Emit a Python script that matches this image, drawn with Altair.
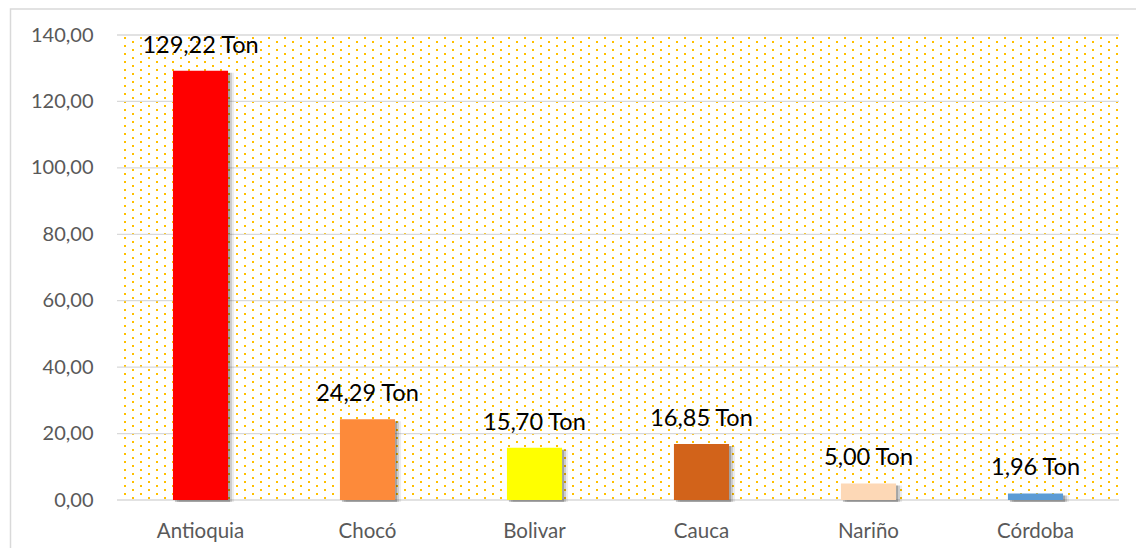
import altair as alt
import pandas as pd

# ---- data ----
departamentos = ["Antioquia", "Chocó", "Bolivar", "Cauca", "Nariño", "Córdoba"]
toneladas = [129.22, 24.29, 15.70, 16.85, 5.00, 1.96]
colores = ["#FF0000", "#FD8A3A", "#FFFF00", "#D2631A", "#FDD8B6", "#5B9BD5"]
y_ticks = [0, 20, 40, 60, 80, 100, 120, 140]

W, H = 1002, 465
FONT = "Lato"

df = pd.DataFrame({"dep": departamentos, "ton": toneladas, "color": colores})
ticks_df = pd.DataFrame({"ton": y_ticks})

y_scale = alt.Scale(domain=[0, 140], nice=False, zero=True)
x_scale = alt.Scale(paddingInner=0.67, paddingOuter=0.335)

x_axis = alt.Axis(orient="bottom", title=None, labelAngle=0, ticks=False, tickSize=0,
                  domain=False, grid=False, labelPadding=21, labelFontSize=20.5,
                  labelColor="#595959", labelFont=FONT)
y_axis = alt.Axis(orient="left", title=None, values=y_ticks,
                  labelExpr="replace(format(datum.value, '.2f'), '.', ',')",
                  ticks=False, tickSize=0, domain=False, grid=False, labelPadding=24,
                  labelFontSize=20, labelColor="#595959", labelFont=FONT)

x_enc = alt.X("dep:N", sort=departamentos, scale=x_scale, axis=x_axis)
y_enc = alt.Y("ton:Q", scale=y_scale, axis=y_axis)

# background dotted texture (decoration only)
COLS, ROWS = 63, 117
pattern = (
    alt.Chart(alt.sequence(0, COLS * ROWS, as_="i"))
    .transform_calculate(row=f"floor(datum.i / {COLS})", col=f"datum.i % {COLS}")
    .transform_calculate(px="datum.col * 16 + (datum.row % 2) * 8 + 8",
                         py="datum.row * 4 + 3")
    .transform_filter(f"datum.px < {W} && datum.py < {H}")
    .mark_square(size=4, color="#FFC000", opacity=1, strokeWidth=0)
    .encode(
        x=alt.X("px:Q", scale=alt.Scale(domain=[0, W], nice=False, zero=False), axis=None),
        y=alt.Y("py:Q", scale=alt.Scale(domain=[0, H], reverse=True, nice=False, zero=False), axis=None),
    )
)

rules = alt.Chart(ticks_df).mark_rule(color="#D9D9D9", strokeWidth=1.3).encode(y=y_enc)

base = alt.Chart(df)
shadows = [
    base.mark_bar(color="#000000", opacity=op, xOffset=off, yOffset=2).encode(x=x_enc, y=y_enc)
    for off, op in [(2, 0.2), (4, 0.13), (6, 0.07)]
]
bars = base.mark_bar(opacity=1).encode(x=x_enc, y=y_enc, color=alt.Color("color:N", scale=None))
text = (
    base.transform_calculate(label="replace(format(datum.ton, '.2f'), '.', ',') + ' Ton'")
    .mark_text(font=FONT, fontSize=23.5, color="#000000", baseline="alphabetic", dy=-18)
    .encode(x=x_enc, y=y_enc, text="label:N")
)

frame = alt.Chart(pd.DataFrame({"a": [0]})).mark_rect(
    fillOpacity=0, stroke="#D9D9D9", strokeWidth=1.5
).encode(x=alt.value(-106.5), x2=alt.value(1300), y=alt.value(-26), y2=alt.value(800))

main = alt.layer(rules, *shadows, bars, text, frame)

chart = (
    alt.layer(pattern, main)
    .resolve_scale(x="independent", y="independent")
    .properties(
        width=W, height=H,
        padding={"left": 109, "top": 27, "right": 17, "bottom": 48},
        autosize=alt.AutoSizeParams(type="none"),
        background="#FFFFFF",
    )
    .configure(font=FONT)
    .configure_view(stroke=None)
)

chart.save("out.html", embed_options={"renderer": "svg", "actions": False})
